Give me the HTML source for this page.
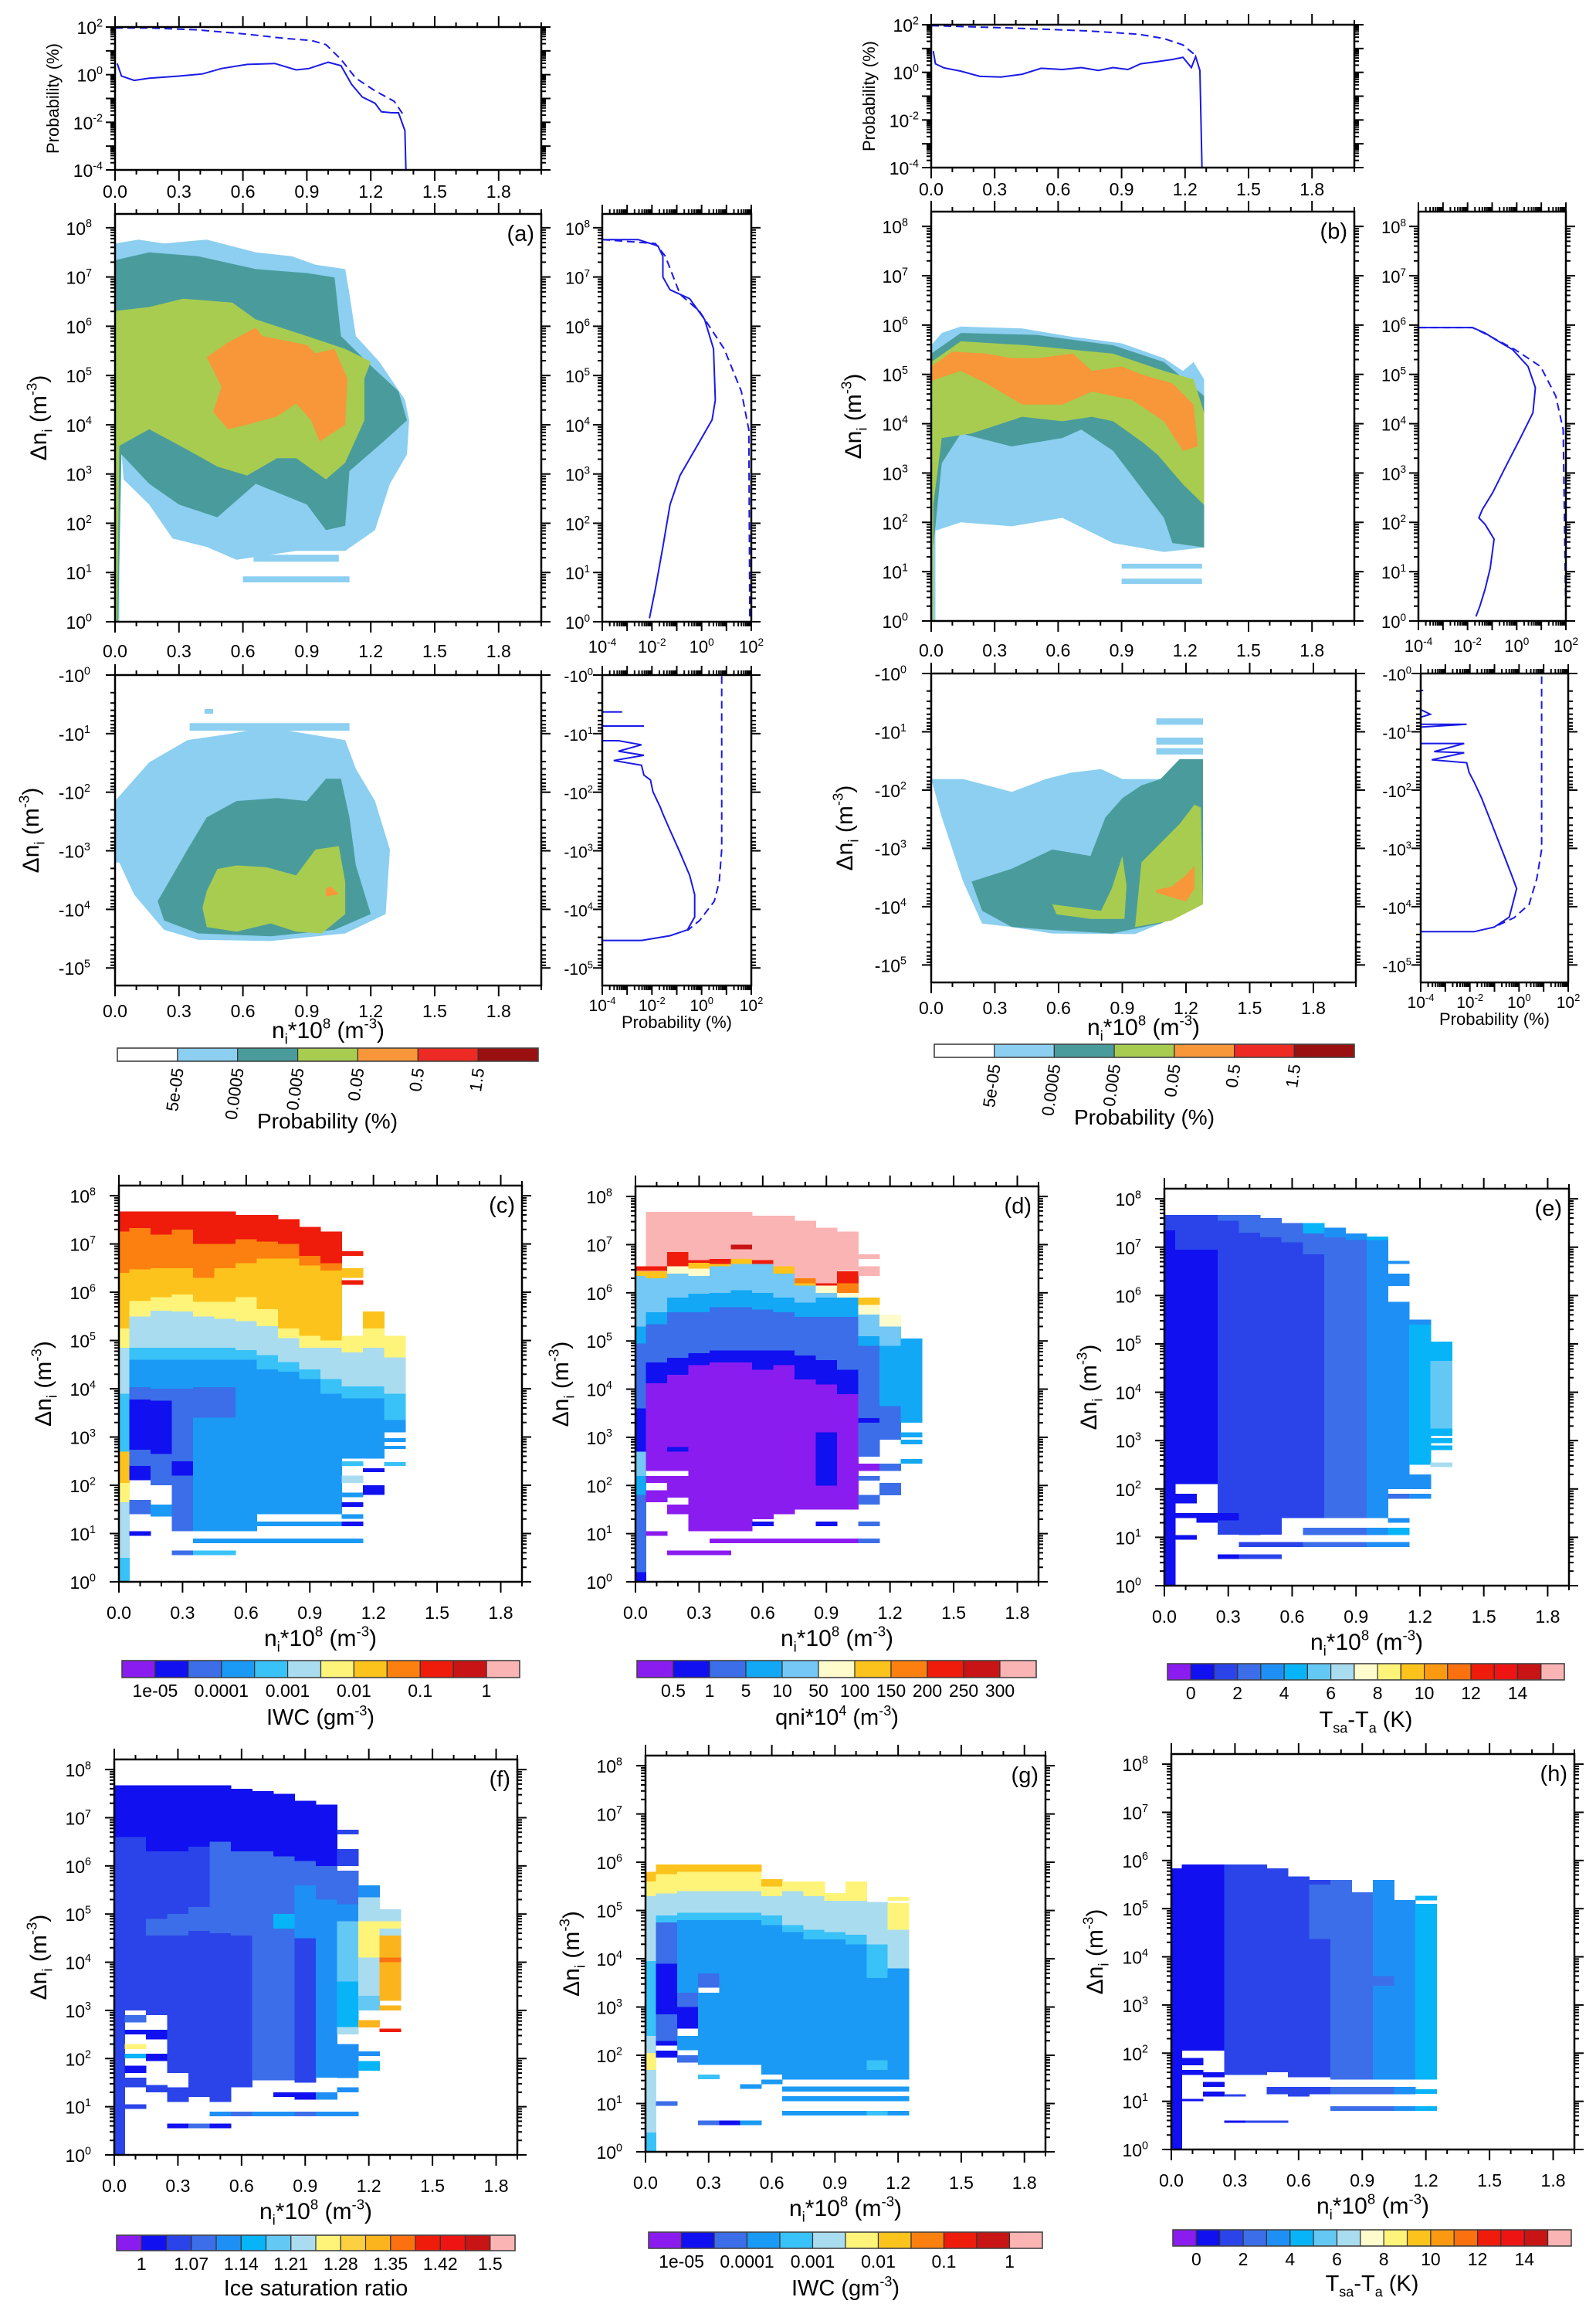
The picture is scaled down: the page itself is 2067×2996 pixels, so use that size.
<!DOCTYPE html>
<html><head><meta charset="utf-8">
<style>
html,body{margin:0;padding:0;background:#fff}
svg{display:block}
text{font-family:"Liberation Sans",Arial,sans-serif;fill:#000}
</style></head>
<body>
<svg id="fig" width="2067" height="2996" viewBox="0 0 2067 2996" xmlns="http://www.w3.org/2000/svg"></svg>
<script>
// ===== DATA =====
const probColors=['#ffffff','#8ccff0','#4a9c9c','#a8cc50','#f8963a','#ee2a24','#9a1010'];
const probLabels=['5e-05','0.0005','0.005','0.05','0.5','1.5'];
const probLabelIdx=[1,2,3,4,5,6];
const iwcColors=['#8b1cf0','#1010f0','#3b6ee8','#1a9af5','#38c2f8','#aadcf0','#fef47a','#fcc31c','#fb800f','#ef1b0b','#c81414','#fbb4b4'];
const iwcLabels=['1e-05','0.0001','0.001','0.01','0.1','1'];
const iwcLabelIdx=[1,3,5,7,9,11];
const qniColors=['#8b1cf0','#1010f0','#3b6ee8','#12a8f5','#74c8f5','#fefbcc','#fcc31c','#fb800f','#ef1b0b','#c81414','#fbb4b4'];
const qniLabels=['0.5','1','5','10','50','100','150','200','250','300'];
const qniLabelIdx=[1,2,3,4,5,6,7,8,9,10];
const tempColors=['#8b1cf0','#1010f0','#2a44ea','#3b6ee8','#1e90f5','#08b4f8','#64c8f5','#aadcf0','#fefbcc','#fef47a','#fcc31c','#fb9a10','#fb700f','#ef1b0b','#ee1414','#c81414','#fbb4b4'];
const tempLabels=['0','2','4','6','8','10','12','14'];
const tempLabelIdx=[1,3,5,7,9,11,13,15];
const satColors=['#8b1cf0','#1010f0','#2a44ea','#3b6ee8','#1e90f5','#08b4f8','#64c8f5','#aadcf0','#fef47a','#fcd040','#fcb41c','#fb700f','#ef1b0b','#ee1414','#c81414','#fbb4b4'];
const satLabels=['1','1.07','1.14','1.21','1.28','1.35','1.42','1.5'];
const satLabelIdx=[1,3,5,7,9,11,13,15];

const aTopSolid=[[0.01,0.47],[0.03,-0.06],[0.09,-0.24],[0.16,-0.15],[0.3,-0.06],[0.41,0.03],[0.5,0.26],[0.62,0.43],[0.75,0.47],[0.85,0.2],[0.91,0.26],[1.0,0.52],[1.06,0.38],[1.11,-0.41],[1.16,-0.94],[1.22,-1.2],[1.25,-1.56],[1.3,-1.6],[1.33,-1.6],[1.36,-2.35],[1.365,-4]];
const aTopDash=[[0,1.96],[0.16,1.96],[0.39,1.88],[0.62,1.7],[0.8,1.52],[0.92,1.44],[0.99,1.26],[1.06,0.64],[1.13,-0.15],[1.22,-0.68],[1.31,-1.12],[1.35,-1.65]];
const bTopSolid=[[0.01,0.89],[0.02,0.36],[0.06,0.19],[0.14,0.05],[0.23,-0.17],[0.33,-0.2],[0.43,-0.08],[0.52,0.17],[0.62,0.12],[0.71,0.2],[0.79,0.08],[0.86,0.2],[0.93,0.12],[0.99,0.36],[1.07,0.45],[1.14,0.54],[1.19,0.63],[1.23,0.2],[1.25,0.66],[1.27,0.08],[1.28,-4]];
const bTopDash=[[0,1.96],[0.38,1.86],[0.74,1.74],[0.98,1.6],[1.1,1.42],[1.19,1.15],[1.25,0.71]];
const aRightSolid=[[-4,7.76],[-2.55,7.76],[-1.76,7.63],[-1.56,7.42],[-1.56,7.0],[-1.27,6.74],[-0.48,6.56],[0.12,6.14],[0.48,5.54],[0.55,4.5],[0.42,4.1],[-0.08,3.66],[-0.87,2.97],[-1.27,2.38],[-1.56,1.52],[-1.86,0.67],[-2.1,0.07]];
const aRightDash=[[-4,7.76],[-1.86,7.68],[-1.46,7.42],[-0.87,6.65],[-0.08,6.3],[0.91,5.54],[1.6,4.68],[1.9,3.9],[1.94,0]];
const bRightSolid=[[-4,5.95],[-1.8,5.95],[-1.29,5.84],[-0.88,5.71],[-0.16,5.5],[0.46,5.16],[0.76,4.73],[0.66,4.22],[0.15,3.71],[-0.47,3.11],[-0.98,2.6],[-1.4,2.26],[-1.54,2.09],[-1.29,1.96],[-0.92,1.66],[-1.08,1.07],[-1.29,0.64],[-1.5,0.3],[-1.66,0.09]];
const bRightDash=[[-4,5.95],[-1.8,5.95],[-1.19,5.8],[-0.06,5.5],[0.97,5.16],[1.59,4.56],[1.89,3.88],[2,0]];
const aLowSolid=[[-4,0.63],[-3.2,0.63],[-4,0.63],[-4,0.87],[-2.32,0.87],[-4,0.87],[-4,1.12],[-3.35,1.12],[-2.42,1.19],[-3.35,1.3],[-2.32,1.37],[-3.54,1.46],[-2.42,1.54],[-2.32,1.71],[-2.06,1.79],[-1.96,1.99],[-1.66,2.26],[-1.56,2.37],[-1.27,2.65],[-0.87,3.03],[-0.48,3.42],[-0.28,3.75],[-0.28,4.13],[-0.57,4.35],[-1.27,4.45],[-2.42,4.53],[-4,4.53]];
const aLowDash=[[0.81,0.02],[0.81,2.98],[0.71,3.53],[0.51,3.86],[-0.08,4.19],[-0.57,4.36]];
const bLowSolid=[[-4,0.29],[-3.9,0.29],[-4,0.29],[-4,0.62],[-3.61,0.7],[-4,0.75],[-4,0.87],[-2.13,0.87],[-4,0.92],[-4,1.2],[-2.23,1.2],[-3.45,1.34],[-2.23,1.36],[-3.55,1.48],[-2.13,1.53],[-2.03,1.7],[-1.83,1.86],[-1.52,2.14],[-1.11,2.58],[-0.6,3.13],[-0.3,3.46],[-0.1,3.69],[-0.3,4.02],[-0.4,4.18],[-1.01,4.35],[-1.83,4.43],[-4,4.43]];
const bLowDash=[[0.92,0.05],[0.92,3.02],[0.72,3.52],[0.41,3.96],[-0.2,4.19],[-1.01,4.35]];

const aUpL1=[[[0,7.68],[0.11,7.76],[0.23,7.68],[0.43,7.76],[0.66,7.5],[0.83,7.42],[0.94,7.25],[1.08,7.16],[1.1,6.65],[1.13,5.8],[1.24,5.28],[1.36,4.51],[1.38,4.09],[1.37,3.4],[1.29,2.8],[1.22,1.86],[1.08,1.44],[0.85,1.44],[0.57,1.26],[0.43,1.52],[0.27,1.69],[0.16,2.38],[0.04,2.89],[0.02,4.09],[0.02,0],[0,0]],[[0.6,0.8],[1.1,0.8],[1.1,0.92],[0.6,0.92]],[[0.65,1.22],[1.05,1.22],[1.05,1.36],[0.65,1.36]]];
const aUpL2=[[[0,7.34],[0.16,7.5],[0.39,7.42],[0.66,7.16],[0.9,7.08],[1.03,6.99],[1.06,5.8],[1.2,5.2],[1.33,4.68],[1.37,4.09],[1.26,3.66],[1.1,3.06],[1.08,1.95],[0.99,1.86],[0.9,2.38],[0.66,2.8],[0.48,2.12],[0.3,2.38],[0.16,2.8],[0.03,3.4],[0.015,0],[0,0]]];
const aUpL3=[[[0,6.31],[0.16,6.39],[0.32,6.56],[0.55,6.48],[0.66,6.14],[0.9,5.8],[1.08,5.54],[1.2,5.28],[1.17,4.94],[1.17,4.09],[1.08,3.23],[0.99,2.89],[0.85,3.32],[0.76,3.32],[0.62,2.97],[0.48,3.15],[0.34,3.49],[0.16,3.91],[0.02,3.57],[0.01,0],[0,0]]];
const aUpL4=[[[0.43,5.37],[0.53,5.67],[0.66,5.97],[0.69,5.8],[0.9,5.62],[0.94,5.45],[1.03,5.54],[1.09,4.94],[1.08,4.0],[0.96,3.66],[0.92,4.09],[0.85,4.43],[0.76,4.17],[0.62,4.0],[0.53,3.91],[0.46,4.26],[0.5,4.77]]];
const aLoL1=[[[0,2.15],[0.16,1.49],[0.34,1.11],[0.55,1.0],[0.71,0.89],[1.08,1.11],[1.13,1.6],[1.22,2.15],[1.29,2.98],[1.27,4.08],[1.08,4.41],[0.73,4.54],[0.39,4.52],[0.23,4.35],[0.09,3.75],[0.02,3.2],[0,3.2]],[[0.35,0.82],[1.1,0.82],[1.1,0.95],[0.35,0.95]],[[0.42,0.58],[0.46,0.58],[0.46,0.66],[0.42,0.66]]];
const aLoL2=[[[0.2,3.86],[0.34,2.98],[0.43,2.43],[0.57,2.15],[0.76,2.1],[0.9,2.15],[0.99,1.77],[1.06,1.77],[1.1,2.43],[1.13,3.25],[1.2,4.08],[1.03,4.35],[0.73,4.46],[0.39,4.41],[0.23,4.19]]];
const aLoL3=[[[0.43,3.69],[0.48,3.31],[0.57,3.25],[0.71,3.28],[0.85,3.42],[0.94,2.98],[1.05,2.92],[1.08,3.53],[1.08,4.08],[0.97,4.41],[0.85,4.38],[0.73,4.24],[0.57,4.38],[0.43,4.3],[0.41,3.97]]];
const aLoL4=[[[0.99,3.64],[1.01,3.61],[1.05,3.74],[0.99,3.78]]];
const bUpL1=[[[0,5.59],[0.05,5.84],[0.14,5.97],[0.43,5.93],[0.67,5.76],[0.9,5.63],[1.1,5.33],[1.19,5.07],[1.24,5.25],[1.29,4.9],[1.29,1.49],[1.1,1.4],[0.86,1.58],[0.62,2.09],[0.38,1.92],[0.14,2.0],[0.02,1.83],[0.02,0],[0,0]],[[0.9,1.06],[1.28,1.06],[1.28,1.16],[0.9,1.16]],[[0.9,0.75],[1.28,0.75],[1.28,0.86],[0.9,0.86]]];
const bUpL2=[[[0,5.42],[0.14,5.84],[0.5,5.8],[0.86,5.59],[1.1,5.25],[1.29,4.56],[1.29,1.49],[1.14,1.58],[1.1,2.09],[0.98,2.77],[0.86,3.45],[0.71,3.88],[0.62,3.71],[0.38,3.54],[0.14,3.8],[0.05,3.2],[0.01,1.49],[0,1.49]]];
const bUpL3=[[[0,5.25],[0.14,5.67],[0.45,5.59],[0.86,5.42],[1.1,5.07],[1.24,4.9],[1.29,4.22],[1.29,2.35],[1.19,2.77],[1.07,3.37],[1.0,3.62],[0.86,4.05],[0.76,4.14],[0.62,4.05],[0.43,4.14],[0.19,3.8],[0.05,3.71],[0.01,2.35],[0.01,0],[0,0]]];
const bUpL4=[[[0,5.16],[0.1,5.46],[0.26,5.42],[0.38,5.33],[0.5,5.33],[0.67,5.42],[0.76,5.07],[0.9,5.16],[1.0,4.99],[1.14,4.82],[1.24,4.39],[1.26,3.54],[1.19,3.45],[1.1,4.05],[0.95,4.48],[0.76,4.65],[0.62,4.39],[0.43,4.39],[0.26,4.82],[0.14,5.07],[0.02,4.9],[0,4.85]]];
const bLoL1=[[[0,1.81],[0.05,2.47],[0.15,3.57],[0.24,4.29],[0.38,4.35],[0.57,4.46],[0.96,4.47],[1.08,4.29],[1.28,3.96],[1.28,1.47],[1.17,1.47],[1.08,1.81],[0.9,1.81],[0.8,1.64],[0.66,1.7],[0.54,1.81],[0.38,2.03],[0.15,1.81]],[[1.06,0.77],[1.28,0.77],[1.28,0.88],[1.06,0.88]],[[1.06,1.1],[1.28,1.1],[1.28,1.22],[1.06,1.22]],[[1.06,1.28],[1.28,1.28],[1.28,1.39],[1.06,1.39]]];
const bLoL2=[[[0.19,3.57],[0.38,3.35],[0.57,3.02],[0.75,3.13],[0.82,2.47],[0.9,2.14],[0.99,1.92],[1.08,1.81],[1.17,1.47],[1.28,1.47],[1.28,3.96],[1.08,4.29],[0.85,4.46],[0.57,4.4],[0.38,4.35],[0.24,4.07]]];
const bLoL3=[[[0.57,3.96],[0.8,4.07],[0.85,3.69],[0.9,3.13],[0.92,3.63],[0.91,4.21],[0.75,4.21],[0.59,4.13]],[[0.99,3.24],[1.08,2.91],[1.17,2.58],[1.24,2.25],[1.27,2.3],[1.28,3.96],[1.13,4.24],[0.96,4.35]]];
const bLoL4=[[[1.06,3.71],[1.13,3.66],[1.2,3.46],[1.24,3.3],[1.24,3.69],[1.2,3.91],[1.06,3.76]]];

const cCols=[
 [[7.26,7.67,9],[6.4,7.26,8],[5.25,6.4,7],[4.85,5.25,6],[3.9,4.85,5],[2.7,3.9,4],[2.05,2.7,7],[1.65,2.05,6],[0.5,1.65,5],[0,0.5,4]],
 [[7.33,7.67,9],[6.47,7.33,8],[5.82,6.47,7],[5.5,5.82,6],[4.85,5.5,5],[4.6,4.85,4],[4.03,4.6,3],[3.78,4.03,2],[2.74,3.78,1],[2.4,2.74,2],[2.1,2.4,1],[1.4,1.7,2],[0.95,1.05,1]],
 [[7.19,7.67,9],[6.5,7.19,8],[5.9,6.5,7],[5.62,5.9,6],[4.85,5.62,5],[4.6,4.85,4],[4.0,4.6,3],[3.75,4.0,2],[2.65,3.75,1],[2.0,2.65,2],[1.35,1.6,3]],
 [[7.3,7.67,9],[6.5,7.3,8],[5.95,6.5,7],[5.6,5.95,6],[4.85,5.6,5],[4.6,4.85,4],[4.0,4.6,3],[3.6,4.0,2],[2.5,3.6,2],[2.2,2.5,1],[1.05,2.2,2],[0.55,0.65,2]],
 [[7.0,7.67,9],[6.3,7.0,8],[5.8,6.3,7],[5.5,5.8,6],[4.85,5.5,5],[4.6,4.85,4],[4.03,4.6,3],[3.4,4.03,2],[1.05,3.4,3],[0.8,0.9,3],[0.55,0.65,4]],
 [[7.0,7.67,9],[6.5,7.0,8],[5.8,6.5,7],[5.45,5.8,6],[4.85,5.45,5],[4.6,4.85,4],[4.03,4.6,3],[3.4,4.03,2],[1.05,3.4,3],[0.8,0.9,3],[0.55,0.65,4]],
 [[7.1,7.6,9],[6.6,7.1,8],[5.9,6.6,7],[5.4,5.9,6],[4.8,5.4,5],[4.6,4.8,4],[1.05,4.6,3],[0.8,0.9,3]],
 [[7.05,7.6,9],[6.7,7.05,8],[5.65,6.7,7],[5.3,5.65,6],[4.7,5.3,5],[4.4,4.7,4],[1.4,4.4,3],[1.15,1.25,3],[0.8,0.9,3]],
 [[7.0,7.51,9],[6.7,7.0,8],[5.25,6.7,7],[5.05,5.25,6],[4.55,5.05,5],[4.35,4.55,4],[1.4,4.35,3],[1.15,1.25,3],[0.8,0.9,3]],
 [[6.75,7.35,9],[6.55,6.75,8],[5.1,6.55,7],[4.85,5.1,6],[4.4,4.85,5],[4.2,4.4,4],[1.4,4.2,3],[1.15,1.25,3],[0.8,0.9,3]],
 [[6.6,7.26,9],[6.45,6.6,8],[5.0,6.45,7],[4.85,5.0,6],[4.2,4.85,5],[3.9,4.2,4],[1.4,3.9,3],[1.15,1.25,3],[0.8,0.9,3]],
 [[6.75,6.85,9],[6.3,6.5,7],[6.15,6.25,9],[4.75,5.1,6],[4.05,4.75,5],[3.8,4.05,4],[2.55,3.8,3],[2.4,2.5,4],[2.05,2.2,5],[1.75,1.85,3],[1.55,1.65,1],[1.3,1.4,3],[1.15,1.25,1],[0.8,0.9,3]],
 [[5.25,5.6,7],[4.85,5.25,6],[4.05,4.85,5],[3.8,4.05,4],[2.55,3.8,3],[2.27,2.35,1],[1.8,2.0,1]],
 [[4.65,5.1,6],[3.9,4.65,5],[3.35,3.9,4],[3.1,3.35,3],[2.9,2.98,3],[2.75,2.82,3],[2.4,2.48,4]]
];
const dCols=[
 [[6.45,6.55,8],[6.35,6.45,6],[5.3,6.35,4],[4.95,5.3,3],[3.6,4.95,2],[2.7,3.6,1],[2.2,2.7,4],[1.8,2.2,3],[0.2,1.8,2],[0,0.2,1]],
 [[6.55,7.68,10],[6.45,6.55,8],[6.3,6.45,6],[5.6,6.3,4],[5.35,5.6,3],[4.55,5.35,2],[4.12,4.55,1],[2.3,4.12,0],[2.05,2.2,0],[1.65,1.9,0],[0.95,1.05,0]],
 [[6.85,7.68,10],[6.55,6.85,8],[6.4,6.55,5],[5.9,6.4,4],[5.6,5.9,3],[4.65,5.6,2],[4.3,4.65,1],[2.3,4.3,0],[2.7,2.8,1],[1.75,2.2,0],[1.4,1.6,0],[0.55,0.65,0]],
 [[6.68,7.68,10],[6.62,6.68,8],[6.5,6.62,6],[6.35,6.5,5],[5.98,6.35,4],[5.6,5.98,3],[4.75,5.6,2],[4.5,4.75,1],[1.05,4.5,0],[0.55,0.65,0]],
 [[6.7,7.68,10],[6.6,6.7,8],[6.55,6.6,6],[6.0,6.55,4],[5.7,6.0,3],[4.8,5.7,2],[4.55,4.8,1],[1.05,4.55,0],[0.8,0.9,0],[0.55,0.65,0]],
 [[7.0,7.68,10],[6.9,7.0,9],[6.7,6.9,10],[6.6,6.7,6],[6.05,6.6,4],[5.7,6.05,3],[4.8,5.7,2],[4.55,4.8,1],[1.05,4.55,0],[0.8,0.9,0]],
 [[6.68,7.6,10],[6.6,6.68,8],[6.0,6.6,4],[5.65,6.0,3],[4.8,5.65,2],[4.4,4.8,1],[1.3,4.4,0],[1.15,1.25,1],[0.8,0.9,0]],
 [[6.55,7.6,10],[6.4,6.55,6],[5.9,6.4,4],[5.6,5.9,3],[4.8,5.6,2],[4.5,4.8,1],[1.4,4.5,0],[0.8,0.9,0]],
 [[6.3,7.5,10],[6.2,6.3,7],[6.15,6.2,6],[5.8,6.15,4],[5.5,5.8,3],[4.7,5.5,2],[4.2,4.7,1],[1.5,4.2,0],[0.8,0.9,0]],
 [[6.2,7.35,10],[6.15,6.2,8],[6.0,6.15,5],[5.9,6.0,4],[5.5,5.9,3],[4.6,5.5,2],[4.1,4.6,1],[3.1,4.1,0],[2.0,3.1,1],[1.5,2.0,0],[1.15,1.25,1],[0.8,0.9,0]],
 [[6.45,7.27,10],[6.2,6.45,8],[6.0,6.2,7],[5.9,6.0,5],[5.5,5.9,3],[4.4,5.5,2],[3.9,4.4,1],[1.5,3.9,0],[0.8,0.9,0]],
 [[6.7,6.8,10],[6.35,6.55,10],[5.75,5.9,6],[5.55,5.75,5],[5.1,5.55,4],[4.9,5.1,3],[2.6,4.9,2],[3.3,3.4,1],[2.3,2.45,0],[2.1,2.2,2],[1.6,1.8,2],[1.15,1.25,2],[0.8,0.9,2]],
 [[5.3,5.55,5],[4.9,5.3,4],[3.65,4.9,3],[2.95,3.65,2],[2.3,2.45,2],[1.8,2.05,2]],
 [[3.3,5.05,3],[3.0,3.1,3],[2.85,2.95,3],[2.45,2.55,3]]
];
const eCols=[
 [[7.35,7.67,2],[0,7.35,1]],
 [[6.95,7.67,2],[2.1,6.95,1],[1.7,1.9,1],[1.4,1.5,1],[0.95,1.05,1]],
 [[6.95,7.67,2],[2.1,6.95,1],[1.3,1.5,1]],
 [[7.55,7.67,3],[1.05,7.55,2],[1.35,1.5,1],[0.55,0.65,1]],
 [[7.3,7.67,3],[1.05,7.3,2],[0.8,0.9,2],[0.55,0.65,2]],
 [[7.2,7.6,3],[1.05,7.2,2],[0.8,0.9,2],[0.55,0.65,2]],
 [[7.1,7.5,3],[1.4,7.1,2],[0.8,0.9,2]],
 [[7.28,7.5,5],[6.85,7.28,3],[1.4,6.85,2],[1.05,1.2,3],[0.8,0.9,3]],
 [[7.2,7.4,4],[1.4,7.2,3],[1.05,1.2,3],[0.8,0.9,3]],
 [[7.15,7.28,4],[1.4,7.15,3],[1.05,1.2,3],[0.8,0.9,3]],
 [[7.15,7.22,5],[1.4,7.15,4],[1.05,1.2,4],[0.8,0.9,4]],
 [[6.65,6.72,4],[6.2,6.45,4],[2.0,5.87,4],[1.8,1.9,3],[1.3,1.4,4],[1.05,1.2,5],[0.8,0.9,4]],
 [[5.4,5.5,4],[2.5,5.4,5],[2.0,2.3,4],[1.8,1.9,4]],
 [[4.65,5.05,5],[3.25,4.65,6],[3.1,3.25,5],[2.95,3.05,5],[2.8,2.9,5],[2.45,2.55,7]]
];
const fCols=[
 [[6.6,7.67,1],[0,6.6,2]],
 [[6.6,7.67,1],[3.0,6.6,2],[2.75,2.9,3],[2.5,2.6,1],[2.2,2.3,8],[2.0,2.1,5],[1.7,1.85,1],[1.4,1.6,2],[0.95,1.05,2]],
 [[6.3,7.67,1],[4.9,6.3,2],[4.55,4.9,3],[2.9,4.55,2],[2.4,2.6,1],[1.95,2.1,1],[1.3,1.45,2]],
 [[6.3,7.67,1],[5.0,6.3,2],[4.55,5.0,3],[1.7,4.55,2],[1.1,1.4,2],[0.55,0.65,1]],
 [[6.4,7.67,1],[5.15,6.4,2],[4.65,5.15,3],[1.2,4.65,2],[0.55,0.65,3]],
 [[6.5,7.67,1],[4.6,6.5,3],[1.1,4.6,2],[0.8,0.9,4],[0.55,0.65,1]],
 [[6.3,7.6,1],[4.55,6.3,3],[1.4,4.55,2],[0.8,0.9,3]],
 [[6.3,7.55,1],[1.55,6.3,3],[0.8,0.9,4]],
 [[6.2,7.5,1],[5.0,6.2,3],[4.7,5.0,5],[1.55,4.7,3],[1.2,1.3,1],[0.8,0.9,4]],
 [[6.1,7.35,1],[5.6,6.1,3],[4.5,5.6,4],[1.5,4.5,2],[1.15,1.3,1],[0.8,0.9,3]],
 [[6.0,7.27,1],[5.3,6.0,3],[1.6,5.3,4],[1.15,1.3,4],[0.8,0.9,4]],
 [[6.65,6.75,2],[6.0,6.35,2],[5.2,5.9,3],[4.85,5.2,4],[3.6,4.85,6],[2.65,3.6,5],[2.5,2.65,7],[1.6,2.3,4],[1.3,1.4,4],[0.8,0.9,4]],
 [[5.35,5.6,4],[4.85,5.35,7],[4.1,4.85,8],[3.3,4.1,7],[3.0,3.3,6],[2.65,2.8,10],[2.05,2.15,4],[1.75,1.95,5]],
 [[4.85,5.1,7],[4.7,4.85,8],[4.55,4.7,7],[3.2,4.55,10],[4.0,4.1,11],[3.0,3.1,10],[2.55,2.62,12]]
];
const gCols=[
 [[5.6,5.8,7],[5.3,5.6,6],[3.95,5.3,5],[2.4,3.95,4],[2.05,2.4,5],[1.7,2.05,6],[0.4,1.7,5],[0,0.4,4]],
 [[5.75,5.95,7],[5.35,5.75,6],[4.9,5.35,5],[4.75,4.9,4],[3.9,4.75,2],[2.85,3.9,1],[2.3,2.85,2],[2.2,2.3,1],[1.95,2.1,1],[0.95,1.05,2]],
 [[5.8,5.95,7],[5.4,5.8,6],[4.95,5.4,5],[4.8,4.95,4],[3.3,4.8,3],[3.0,3.3,2],[2.55,3.0,1],[2.1,2.4,3],[1.85,2.0,2]],
 [[5.8,5.95,7],[5.4,5.8,6],[4.95,5.4,5],[4.8,4.95,4],[3.7,4.8,3],[3.4,3.7,2],[1.8,3.3,3],[1.5,1.6,4],[0.55,0.65,2]],
 [[5.8,5.95,7],[5.4,5.8,6],[4.95,5.4,5],[4.8,4.95,4],[1.8,4.8,3],[0.55,0.65,1]],
 [[5.8,5.95,7],[5.4,5.8,6],[4.95,5.4,5],[4.8,4.95,4],[1.8,4.8,3],[1.3,1.4,3],[0.55,0.65,3]],
 [[5.5,5.65,7],[5.3,5.5,6],[4.9,5.3,5],[4.7,4.9,4],[1.6,4.7,3],[1.4,1.5,3]],
 [[5.4,5.6,6],[4.7,5.4,5],[4.55,4.7,4],[1.5,4.55,3],[1.25,1.35,3],[1.05,1.15,3],[0.75,0.85,3]],
 [[5.3,5.6,6],[4.6,5.3,5],[4.4,4.6,4],[1.5,4.4,3],[1.25,1.35,3],[1.05,1.15,3],[0.75,0.85,3]],
 [[5.2,5.36,6],[4.55,5.2,5],[4.4,4.55,4],[1.5,4.4,3],[1.25,1.35,3],[1.05,1.15,3],[0.75,0.85,3]],
 [[5.2,5.6,6],[4.5,5.2,5],[4.3,4.5,4],[1.5,4.3,3],[1.25,1.35,3],[1.05,1.15,3],[0.75,0.85,3]],
 [[4.3,5.18,5],[3.6,4.3,4],[1.5,3.6,3],[1.7,1.9,4],[1.25,1.35,3],[1.05,1.15,3],[0.75,0.85,4]],
 [[5.2,5.28,6],[4.6,5.15,6],[3.8,4.6,5],[1.5,3.8,3],[1.25,1.35,3],[1.05,1.15,3],[0.75,0.85,3]]
];
const hCols=[
 [[0,5.84,1]],
 [[2.05,5.92,1],[1.75,1.9,1],[1.55,1.65,1],[1.0,1.05,1]],
 [[2.05,5.92,1],[1.5,1.6,1],[1.3,1.4,1],[1.1,1.2,1]],
 [[1.55,5.92,2],[1.1,1.15,2],[0.55,0.6,1]],
 [[1.55,5.92,2],[0.55,0.6,2]],
 [[1.6,5.84,2],[1.15,1.3,2],[0.55,0.6,2]],
 [[1.5,5.67,2],[1.1,1.3,2]],
 [[5.5,5.6,2],[4.37,5.5,3],[1.5,4.37,2],[1.15,1.3,2]],
 [[1.45,5.6,3],[1.15,1.3,3],[0.8,0.9,3]],
 [[1.45,5.34,3],[1.15,1.3,3],[0.8,0.9,3]],
 [[1.45,5.6,4],[3.4,3.6,3],[1.15,1.3,3],[0.8,0.9,3]],
 [[1.45,5.18,4],[1.15,1.3,4],[0.8,0.9,4]],
 [[5.17,5.27,5],[1.45,5.1,5],[1.15,1.25,5],[0.8,0.9,5]]
];

// ===== RENDER =====
const NS='http://www.w3.org/2000/svg';
const svg=document.getElementById('fig');
function mk(tag,attrs,parent){const e=document.createElementNS(NS,tag);for(const k in attrs)e.setAttribute(k,attrs[k]);(parent||svg).appendChild(e);return e;}
function axis(b,xr,yr,neg){
  const X=v=>b.x0+(v-xr[0])/(xr[1]-xr[0])*(b.x1-b.x0);
  const Y=neg?(v=>b.y0+(v-yr[0])/(yr[1]-yr[0])*(b.y1-b.y0)):(v=>b.y1-(v-yr[0])/(yr[1]-yr[0])*(b.y1-b.y0));
  return {X,Y,b,xr,yr,neg};
}
function rich(parent,x,y,parts,fs,anchor,rot){
  const t=mk('text',{x:x,y:y,'font-size':fs,'text-anchor':anchor||'middle'},parent);
  if(rot)t.setAttribute('transform','rotate('+rot+' '+x+' '+y+')');
  let shift=0;
  parts.forEach(p=>{
    const s=p[1]||'n';let target=s==='sup'?-0.42*fs:(s==='sub'?0.25*fs:0);
    const ts=mk('tspan',{dy:(target-shift).toFixed(1)},t);
    if(s!=='n')ts.setAttribute('font-size',(fs*0.62).toFixed(1));
    ts.textContent=p[0];shift=target;
  });
  return t;
}
function logLab(parent,x,y,e,fs,anchor,neg){
  return rich(parent,x,y,[[(neg?'-10':'10')],[String(e),'sup']],fs,anchor);
}
let clipN=0;
function panelGroup(ax,name){
  const id='clip'+(clipN++);
  const cp=mk('clipPath',{id:id});
  mk('rect',{x:ax.b.x0,y:ax.b.y0,width:ax.b.x1-ax.b.x0,height:ax.b.y1-ax.b.y0},cp);
  const g=mk('g',{'clip-path':'url(#'+id+')'});
  
  
  return g;
}
function frame(ax,o){
  const g=mk('g',{});
  
  
  const b=ax.b,fs=o.fs||23;
  const fr=mk('rect',{x:b.x0,y:b.y0,width:b.x1-b.x0,height:b.y1-b.y0,fill:'none',stroke:'#000','stroke-width':2.5},g);
  
  
  const tl=(x1,y1,x2,y2)=>mk('line',{x1:x1,y1:y1,x2:x2,y2:y2,stroke:'#000','stroke-width':2},g);
  if(o.xlog){
    for(let d=Math.floor(ax.xr[0]);d<=ax.xr[1];d++)for(let k=1;k<=9;k++){
      const v=d+Math.log10(k);if(v<ax.xr[0]-1e-9||v>ax.xr[1]+1e-9)continue;
      const L=k===1?12:6,x=ax.X(v);tl(x,b.y1,x,b.y1+L);tl(x,b.y0,x,b.y0-L);
      if(k===1&&o.xlab&&((d-ax.xr[0])%2===0)){const t=logLab(g,x,b.y1+o.xoff,d,fs,'middle',false);}
    }
  } else {
    const n=Math.round((ax.xr[1]-ax.xr[0])/0.1+1e-6);
    for(let i=0;i<=n;i++){const v=ax.xr[0]+i*0.1,maj=i%3===0,L=maj?14:6,x=ax.X(v);
      tl(x,b.y1,x,b.y1+L);tl(x,b.y0,x,b.y0-L);
      if(maj&&o.xlab){const t=mk('text',{x:x,y:b.y1+o.xoff,'font-size':fs,'text-anchor':'middle'},g);t.textContent=v.toFixed(1);}
    }
  }
  for(let d=Math.floor(ax.yr[0]);d<=ax.yr[1];d++)for(let k=1;k<=9;k++){
    const v=d+Math.log10(k);if(v<ax.yr[0]-1e-9||v>ax.yr[1]+1e-9)continue;
    const L=k===1?12:6,y=ax.Y(v);tl(b.x0,y,b.x0-L,y);tl(b.x1,y,b.x1+L,y);
    if(k===1&&((d-ax.yr[0])%(o.ystep||1)===0)){const t=logLab(g,b.x0-o.yoff,y+9,d,fs,'end',o.neg);}
  }
  return g;
}
function drawLine(ax,pts,dashed,parent,name){
  const d=pts.map((p,i)=>(i?'L':'M')+ax.X(p[0]).toFixed(1)+','+ax.Y(p[1]).toFixed(1)).join('');
  const p=mk('path',{d:d,fill:'none',stroke:'#1a1ae6','stroke-width':2,'stroke-dasharray':dashed?'10,6':'none'},parent);
  
  
}
function drawPolys(ax,polys,color,parent,name){
  polys.forEach(poly=>{
    const d=poly.map((p,i)=>(i?'L':'M')+ax.X(p[0]).toFixed(1)+','+ax.Y(p[1]).toFixed(1)).join('')+'Z';
    const p=mk('path',{d:d,fill:color,stroke:'none'},parent);
    
    
  });
}
function drawHeat(ax,cols,colors,parent){
  cols.forEach((segs,j)=>{
    const lo=j===0?0:j*0.1-0.05,hi=j*0.1+0.05;
    segs.forEach(s=>{
      const x0=ax.X(lo),x1=ax.X(hi),y0=ax.Y(s[1]),y1=ax.Y(s[0]);
      const r=mk('rect',{x:x0.toFixed(1),y:y0.toFixed(1),width:(x1-x0+0.5).toFixed(1),height:(y1-y0).toFixed(1),fill:colors[s[2]],'shape-rendering':'crispEdges'},parent);
      
      
    });
  });
}
function colorbar(x0,y0,x1,y1,colors,idx,labels,rot,name){
  const g=mk('g',{});
  
  
  const w=(x1-x0)/colors.length;
  colors.forEach((c,i)=>{const r=mk('rect',{x:(x0+i*w).toFixed(1),y:y0,width:w.toFixed(1),height:y1-y0,fill:c,stroke:'#333','stroke-width':1.2},g);
    });
  mk('rect',{x:x0,y:y0,width:x1-x0,height:y1-y0,fill:'none',stroke:'#444','stroke-width':1.5},g);
  idx.forEach((k,i)=>{
    const x=x0+k*w;let t;
    if(rot){t=mk('text',{x:x+8,y:y1+10,'font-size':22,'text-anchor':'end',transform:'rotate(-82 '+(x+8)+' '+(y1+10)+')'},g);}
    else t=mk('text',{x:x,y:y1+25,'font-size':23,'text-anchor':'middle'},g);
    t.textContent=labels[i];
    
    
  });
  return g;
}
function ytitle(x,y,name){const t=rich(svg,x,y,[['\u0394n'],['i','sub'],['  (m'],['-3','sup'],[')']],30,'middle',-90);}
function xtitle(x,y,name){const t=rich(svg,x,y,[['n'],['i','sub'],['*10'],['8','sup'],[' (m'],['-3','sup'],[')']],30,'middle');}
function plabel(ax,s){const t=mk('text',{x:ax.b.x1-9,y:ax.b.y0+35,'font-size':29,'text-anchor':'end'});t.textContent=s;}
function simpleText(x,y,s,fs,name,rot){const t=mk('text',{x:x,y:y,'font-size':fs,'text-anchor':'middle'});if(rot)t.setAttribute('transform','rotate('+rot+' '+x+' '+y+')');t.textContent=s;return t;}

function jointBlock(B,top,right,main,low,lowR,L){
  const topAx=axis(B.top,[0,2.0],[-4,2]);
  let g=panelGroup(topAx,L+'-top-marginal');
  drawLine(topAx,top[1],true,g,'cumulative-line');drawLine(topAx,top[0],false,g,'pdf-line');
  frame(topAx,{name:L+'-top',xlab:true,xoff:36,yoff:16,ystep:2,fs:23});
  simpleText(B.topTitleX,(B.top.y0+B.top.y1)/2,'Probability (%)',22,'top-marginal-y-title',-90);

  const mAx=axis(B.main,[0,2.0],[0,B.mainTop]);
  g=panelGroup(mAx,L+'-joint-pdf-positive');
  ['#8ccff0','#4a9c9c','#a8cc50','#f8963a'].forEach((c,i)=>drawPolys(mAx,main[i],c,g,'contour-level-'+(i+1)));
  frame(mAx,{name:L+'-main',xlab:true,xoff:46,yoff:30,fs:23});
  plabel(mAx,'('+L+')');
  ytitle(B.ytX,(B.main.y0+B.main.y1)/2,'y-axis-title');

  const rAx=axis(B.right,[-4,2],[0,B.mainTop]);
  g=panelGroup(rAx,L+'-right-marginal');
  drawLine(rAx,right[1],true,g,'cumulative-line');drawLine(rAx,right[0],false,g,'pdf-line');
  frame(rAx,{name:L+'-right',xlog:true,xlab:true,xoff:40,yoff:16,fs:22});

  const lAx=axis(B.low,[0,2.0],[0,5.3],true);
  g=panelGroup(lAx,L+'-joint-pdf-negative');
  ['#8ccff0','#4a9c9c','#a8cc50','#f8963a'].forEach((c,i)=>drawPolys(lAx,low[i],c,g,'contour-level-'+(i+1)));
  frame(lAx,{name:L+'-low',xlab:true,xoff:41,yoff:32,neg:true,fs:23});
  ytitle(B.ytX2,(B.low.y0+B.low.y1)/2,'y-axis-title');
  xtitle((B.low.x0+B.low.x1)/2,B.low.y1+68,'x-axis-title');

  const lrAx=axis(B.lowR,[-4,2],[0,5.3],true);
  g=panelGroup(lrAx,L+'-lower-right-marginal');
  drawLine(lrAx,lowR[1],true,g,'cumulative-line');drawLine(lrAx,lowR[0],false,g,'pdf-line');
  frame(lrAx,{name:L+'-lowright',xlog:true,xlab:true,xoff:33,yoff:12,neg:true,fs:21});
  simpleText((B.lowR.x0+B.lowR.x1)/2,B.lowR.y1+55,'Probability (%)',22,'x-axis-title');
}
jointBlock({top:{x0:149,y0:35,x1:701,y1:220},main:{x0:149,y0:277,x1:701,y1:805},right:{x0:780,y0:277,x1:973,y1:805},
  low:{x0:149,y0:874,x1:701,y1:1276},lowR:{x0:780,y0:874,x1:973,y1:1276},mainTop:8.28,topTitleX:76,ytX:60,ytX2:50},
  [aTopSolid,aTopDash],[aRightSolid,aRightDash],[aUpL1,aUpL2,aUpL3,aUpL4],[aLoL1,aLoL2,aLoL3,aLoL4],[aLowSolid,aLowDash],'a');
jointBlock({top:{x0:1206,y0:32,x1:1754,y1:217},main:{x0:1206,y0:274,x1:1754,y1:804},right:{x0:1837,y0:274,x1:2028,y1:804},
  low:{x0:1206,y0:872,x1:1756,y1:1272},lowR:{x0:1840,y0:872,x1:2031,y1:1272},mainTop:8.3,topTitleX:1133,ytX:1115,ytX2:1104},
  [bTopSolid,bTopDash],[bRightSolid,bRightDash],[bUpL1,bUpL2,bUpL3,bUpL4],[bLoL1,bLoL2,bLoL3,bLoL4],[bLowSolid,bLowDash],'b');
colorbar(152,1357,697,1374,probColors,probLabelIdx,probLabels,true,'probability-colorbar-a');
simpleText(424,1461,'Probability (%)',28,'colorbar-title');
colorbar(1210,1352,1754,1369,probColors,probLabelIdx,probLabels,true,'probability-colorbar-b');
simpleText(1482,1456,'Probability (%)',28,'colorbar-title');

function heatPanel(box,cols,colors,L,ytX){
  const ax=axis(box,[0,1.9],[0,8.21]);
  const g=panelGroup(ax,'panel-'+L);
  drawHeat(ax,cols,colors,g);
  frame(ax,{name:'panel-'+L,xlab:true,xoff:48,yoff:30,fs:23});
  plabel(ax,'('+L+')');
  ytitle(ytX,(box.y0+box.y1)/2,'y-axis-title');
  xtitle((box.x0+box.x1)/2,box.y1+83,'x-axis-title');
}
heatPanel({x0:154,y0:1535,x1:676,y1:2048},cCols,iwcColors,'c',66);
heatPanel({x0:823,y0:1536,x1:1345,y1:2048},dCols,qniColors,'d',736);
heatPanel({x0:1508,y0:1539,x1:2032,y1:2053},eCols,tempColors,'e',1420);
heatPanel({x0:148,y0:2278,x1:670,y1:2790},fCols,satColors,'f',60);
heatPanel({x0:836,y0:2273,x1:1354,y1:2786},gCols,iwcColors,'g',750);
heatPanel({x0:1517,y0:2271,x1:2039,y1:2783},hCols,tempColors,'h',1428);

colorbar(158,2150,673,2172,iwcColors,iwcLabelIdx,iwcLabels,false,'iwc-colorbar-c');
colorbar(825,2150,1342,2172,qniColors,qniLabelIdx,qniLabels,false,'qni-colorbar-d');
colorbar(1512,2154,2026,2175,tempColors,tempLabelIdx,tempLabels,false,'temp-colorbar-e');
colorbar(151,2894,667,2914,satColors,satLabelIdx,satLabels,false,'saturation-colorbar-f');
colorbar(840,2890,1350,2911,iwcColors,iwcLabelIdx,iwcLabels,false,'iwc-colorbar-g');
colorbar(1519,2887,2035,2908,tempColors,tempLabelIdx,tempLabels,false,'temp-colorbar-h');

function cbTitle(x,y,parts,name){const t=rich(svg,x,y,parts,29,'middle');}
cbTitle(415,2233,[['IWC (gm'],['-3','sup'],[')']],'colorbar-title');
cbTitle(1084,2233,[['qni*10'],['4','sup'],[' (m'],['-3','sup'],[')']],'colorbar-title');
cbTitle(1769,2236,[['T'],['sa','sub'],['-T'],['a','sub'],[' (K)']],'colorbar-title');
simpleText(409,2972,'Ice saturation ratio',29,'colorbar-title');
cbTitle(1095,2972,[['IWC (gm'],['-3','sup'],[')']],'colorbar-title');
cbTitle(1777,2966,[['T'],['sa','sub'],['-T'],['a','sub'],[' (K)']],'colorbar-title');
</script>
</body></html>
